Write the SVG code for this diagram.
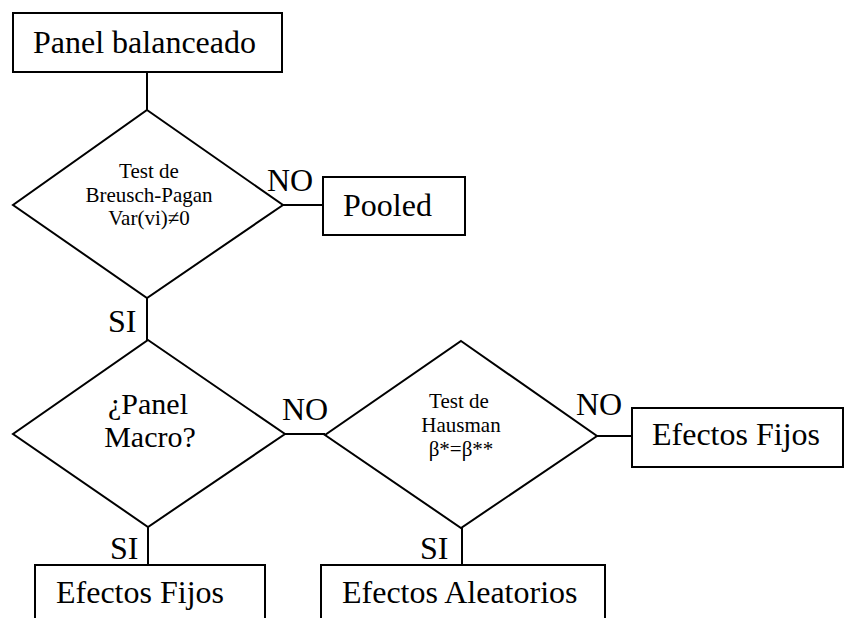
<svg xmlns="http://www.w3.org/2000/svg" width="848" height="618" viewBox="0 0 848 618" font-family="'Liberation Serif', 'Times New Roman', 'DejaVu Serif', serif">
<style>
.s{fill:#fff;stroke:#000;stroke-width:2}
.c{fill:none;stroke:#000;stroke-width:2}
text{fill:#000}
.b{font-size:32px}
.m{font-size:21px;text-anchor:middle}
.q{font-size:30px;text-anchor:middle}
</style>
<rect width="848" height="618" fill="#fff"/>
<g id="connectors">
<line class="c" x1="147" y1="72" x2="147" y2="110"/>
<line class="c" x1="283" y1="205" x2="323" y2="205"/>
<line class="c" x1="147" y1="298" x2="147" y2="340"/>
<line class="c" x1="285" y1="434" x2="325" y2="434"/>
<line class="c" x1="597" y1="436" x2="632" y2="436"/>
<line class="c" x1="148" y1="527" x2="148" y2="565"/>
<line class="c" x1="462" y1="528" x2="462" y2="565"/>
<text class="b" x="267" y="191">NO</text>
<text class="b" x="108" y="332">SI</text>
<text class="b" x="282" y="420">NO</text>
<text class="b" x="576" y="415">NO</text>
<text class="b" x="110" y="559">SI</text>
<text class="b" x="420" y="559">SI</text>
</g>
<g id="panel">
<rect class="s" x="13" y="13" width="269" height="59"/>
<text class="b" x="33" y="53">Panel balanceado</text>
</g>
<g id="breusch">
<polygon class="s" points="147,110 283,205 147,298 13,205"/>
<text class="m" x="149" y="178">Test de</text>
<text class="m" x="149" y="202">Breusch-Pagan</text>
<text class="m" x="149" y="225">Var(vi)≠0</text>
</g>
<g id="pooled">
<rect class="s" x="323" y="177" width="142" height="58"/>
<text class="b" x="343" y="216">Pooled</text>
</g>
<g id="macro">
<polygon class="s" points="148,340 285,434 148,527 13,434"/>
<text class="q" x="148" y="414">¿Panel</text>
<text class="q" x="150" y="447">Macro?</text>
</g>
<g id="hausman">
<polygon class="s" points="461,341 597,436 461,528 325,435"/>
<text class="m" x="459" y="408">Test de</text>
<text class="m" x="461" y="432">Hausman</text>
<text class="m" x="461" y="456">β*=β**</text>
</g>
<g id="fijos1">
<rect class="s" x="632" y="408" width="211" height="59"/>
<text class="b" x="652" y="445">Efectos Fijos</text>
</g>
<g id="fijos2">
<rect class="s" x="35" y="565" width="230" height="70"/>
<text class="b" x="56" y="603">Efectos Fijos</text>
</g>
<g id="aleatorios">
<rect class="s" x="321" y="565" width="284" height="70"/>
<text class="b" x="342" y="603">Efectos Aleatorios</text>
</g>
</svg>
